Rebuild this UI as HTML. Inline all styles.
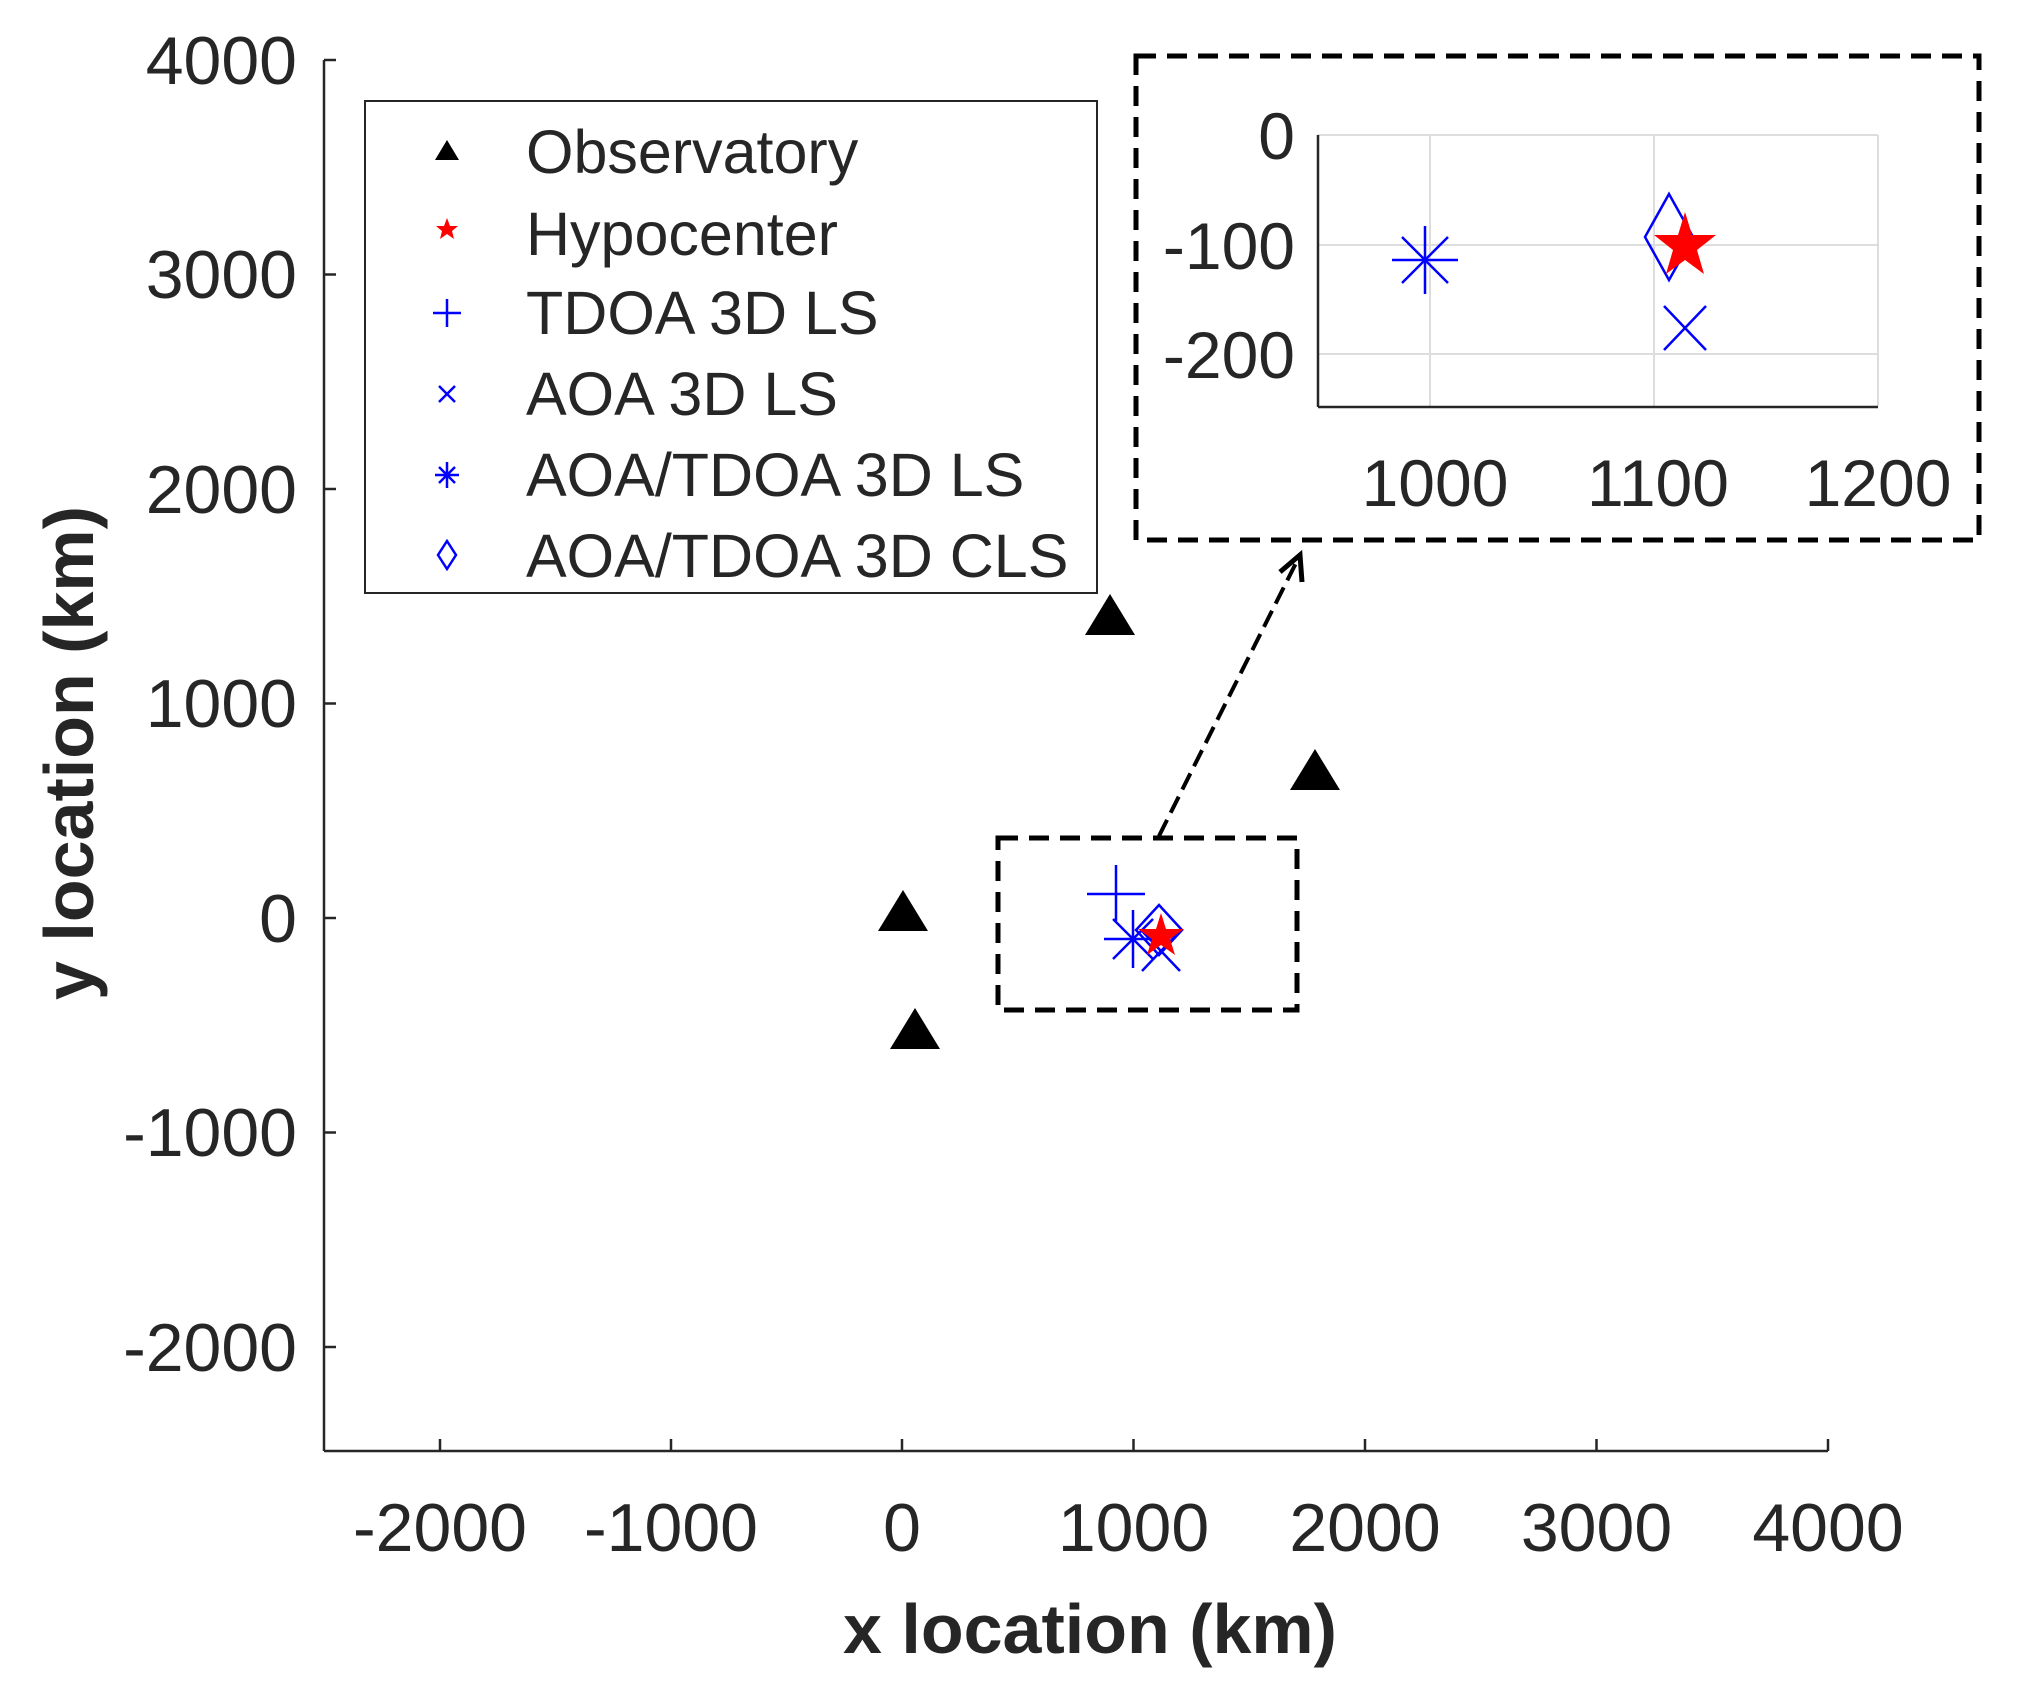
<!DOCTYPE html>
<html><head><meta charset="utf-8"><style>
html,body{margin:0;padding:0;background:#fff;}
svg{display:block;}
text{font-family:"Liberation Sans",Arial,sans-serif;fill:#262626;}
</style></head><body>
<svg width="2024" height="1691" viewBox="0 0 2024 1691" xmlns="http://www.w3.org/2000/svg">
<rect width="2024" height="1691" fill="#fff"/>
<!-- main axes -->
<g stroke="#262626" stroke-width="2.5" fill="none">
<line x1="324" y1="60" x2="324" y2="1451"/>
<line x1="324" y1="1451" x2="1828" y2="1451"/>
<line x1="324" y1="60" x2="336" y2="60"/>
<line x1="324" y1="274.5" x2="336" y2="274.5"/>
<line x1="324" y1="489" x2="336" y2="489"/>
<line x1="324" y1="703.5" x2="336" y2="703.5"/>
<line x1="324" y1="918" x2="336" y2="918"/>
<line x1="324" y1="1132.5" x2="336" y2="1132.5"/>
<line x1="324" y1="1347" x2="336" y2="1347"/>
<line x1="440" y1="1451" x2="440" y2="1439"/>
<line x1="671" y1="1451" x2="671" y2="1439"/>
<line x1="902" y1="1451" x2="902" y2="1439"/>
<line x1="1133.5" y1="1451" x2="1133.5" y2="1439"/>
<line x1="1365" y1="1451" x2="1365" y2="1439"/>
<line x1="1596.5" y1="1451" x2="1596.5" y2="1439"/>
<line x1="1828" y1="1451" x2="1828" y2="1439"/>
</g>
<g font-size="68" text-anchor="end">
<text x="297" y="84">4000</text>
<text x="297" y="298">3000</text>
<text x="297" y="513">2000</text>
<text x="297" y="727">1000</text>
<text x="297" y="942">0</text>
<text x="297" y="1156">-1000</text>
<text x="297" y="1371">-2000</text>
</g>
<g font-size="68" text-anchor="middle">
<text x="440" y="1551">-2000</text>
<text x="671" y="1551">-1000</text>
<text x="902" y="1551">0</text>
<text x="1133.5" y="1551">1000</text>
<text x="1365" y="1551">2000</text>
<text x="1596.5" y="1551">3000</text>
<text x="1828" y="1551">4000</text>
</g>
<text x="1090" y="1653" font-size="70" font-weight="bold" text-anchor="middle">x location (km)</text>
<text transform="translate(93,753) rotate(-90)" font-size="70" font-weight="bold" text-anchor="middle">y location (km)</text>

<!-- legend -->
<rect x="365" y="101" width="732" height="492" fill="#fff" stroke="#262626" stroke-width="2"/>
<g font-size="61">
<text x="526" y="173">Observatory</text>
<text x="526" y="255">Hypocenter</text>
<text x="526" y="334">TDOA 3D LS</text>
<text x="526" y="415">AOA 3D LS</text>
<text x="526" y="496">AOA/TDOA 3D LS</text>
<text x="526" y="577">AOA/TDOA 3D CLS</text>
</g>
<polygon points="447,140 459,160 435,160" fill="#000"/>
<polygon points="447,218 450,226 458,226 452,231 454,239 447,234 440,239 442,231 436,226 444,226" fill="#f00"/>
<g stroke="#00f" stroke-width="2.5" fill="none">
<line x1="447" y1="299" x2="447" y2="327"/><line x1="433" y1="313" x2="461" y2="313"/>
<line x1="439" y1="386" x2="455" y2="402"/><line x1="455" y1="386" x2="439" y2="402"/>
<line x1="447" y1="462" x2="447" y2="488"/><line x1="435" y1="475" x2="459" y2="475"/>
<line x1="439" y1="467" x2="455" y2="483"/><line x1="455" y1="467" x2="439" y2="483"/>
<polygon points="447,541 456,555 447,569 438,555"/>
</g>

<g transform="translate(-4,-3)">
<g fill="#000">
<polygon points="907,893 932,934 882,934"/>
<polygon points="919,1011 944,1052 894,1052"/>
<polygon points="1114,597 1139,638 1089,638"/>
<polygon points="1319,752 1344,793 1294,793"/>
</g>
<g transform="translate(4,2)">
<g stroke="#00f" stroke-width="2.5" fill="none">
<line x1="1116" y1="866" x2="1116" y2="922"/><line x1="1087" y1="895" x2="1145" y2="895"/>
<line x1="1133" y1="911" x2="1133" y2="969"/><line x1="1104" y1="940" x2="1162" y2="940"/>
<line x1="1113" y1="920" x2="1153" y2="960"/><line x1="1153" y1="920" x2="1113" y2="960"/>
<polygon points="1159,906 1182,931 1159,956 1136,931"/>
<line x1="1142" y1="932" x2="1180" y2="972"/><line x1="1180" y1="932" x2="1142" y2="972"/>
</g>
<polygon points="1161,914 1166,930 1184,930 1170,940 1175,956 1161,946 1147,956 1152,940 1138,930 1156,930" fill="#f00"/>
</g>
<rect x="1002" y="841" width="299" height="172" fill="none" stroke="#000" stroke-width="5" stroke-dasharray="20,11"/>
<line x1="1163" y1="839" x2="1302" y2="562" stroke="#000" stroke-width="4" stroke-dasharray="18,8"/>
<polyline points="1284,575 1304,558 1306,585" fill="none" stroke="#000" stroke-width="5"/>
</g>

<!-- inset -->
<g transform="translate(-7,0)">
<rect x="1143" y="56" width="843" height="484" fill="#fff" stroke="#000" stroke-width="5" stroke-dasharray="20,11"/>
<g stroke="#ddd" stroke-width="2">
<line x1="1325" y1="135" x2="1885" y2="135"/>
<line x1="1325" y1="245" x2="1885" y2="245"/>
<line x1="1325" y1="354" x2="1885" y2="354"/>
<line x1="1437" y1="135" x2="1437" y2="406"/>
<line x1="1661" y1="135" x2="1661" y2="406"/>
<line x1="1885" y1="135" x2="1885" y2="406"/>
</g>
<g stroke="#262626" stroke-width="2.5">
<line x1="1325" y1="135" x2="1325" y2="407"/>
<line x1="1325" y1="407" x2="1885" y2="407"/>
</g>
<g font-size="66" text-anchor="end">
<text x="1302" y="159">0</text>
<text x="1302" y="269">-100</text>
<text x="1302" y="378">-200</text>
</g>
<g font-size="66" text-anchor="middle">
<text x="1442" y="506">1000</text>
<text x="1665" y="506">1100</text>
<text x="1885" y="506">1200</text>
</g>
<g stroke="#00f" stroke-width="2.5" fill="none">
<line x1="1432" y1="226" x2="1432" y2="294"/><line x1="1399" y1="260" x2="1465" y2="260"/>
<line x1="1409" y1="237" x2="1455" y2="283"/><line x1="1455" y1="237" x2="1409" y2="283"/>
<polygon points="1676,194 1700,237 1676,280 1652,237"/>
<line x1="1671" y1="306" x2="1713" y2="350"/><line x1="1713" y1="306" x2="1671" y2="350"/>
</g>
<polygon points="1692,212 1699,235 1723,235 1704,250 1711,274 1692,260 1673,274 1680,250 1661,235 1685,235" fill="#f00"/>
</g>
</svg>
</body></html>
